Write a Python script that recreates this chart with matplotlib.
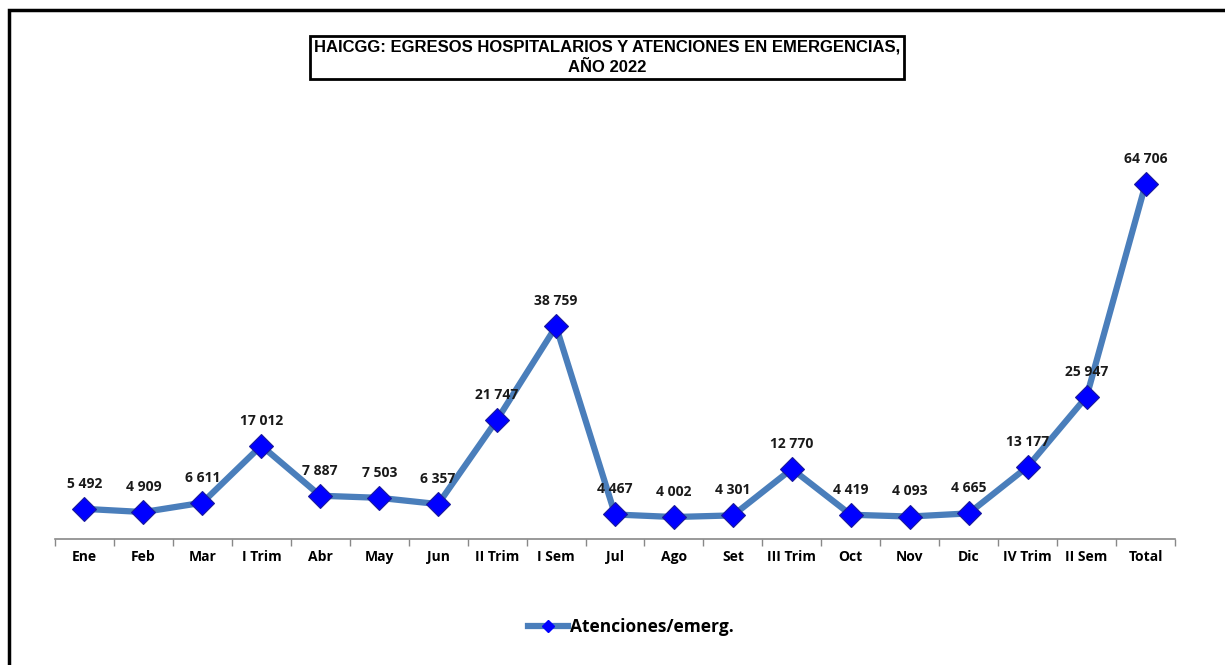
import numpy as np
import matplotlib.pyplot as plt
from matplotlib.lines import Line2D
from matplotlib.patches import Rectangle

categorias = ['Ene', 'Feb', 'Mar', 'I Trim', 'Abr', 'May', 'Jun', 'II Trim', 'I Sem',
              'Jul', 'Ago', 'Set', 'III Trim', 'Oct', 'Nov', 'Dic', 'IV Trim', 'II Sem', 'Total']
atenciones = [5492, 4909, 6611, 17012, 7887, 7503, 6357, 21747, 38759,
              4467, 4002, 4301, 12770, 4419, 4093, 4665, 13177, 25947, 64706]

titulo = 'HAICGG: EGRESOS HOSPITALARIOS Y ATENCIONES EN EMERGENCIAS,\nAÑO 2022'
serie = 'Atenciones/emerg.'

FONT = ['Open Sans', 'DejaVu Sans']


def main():
    fig = plt.figure(figsize=(12.25, 6.65), dpi=100)
    ax = fig.add_axes([0.0449, 0.1895, 0.9143, 0.5774])

    x = np.arange(len(categorias))
    ax.plot(x, atenciones, color='#4A7EBB', linewidth=4.5,
            marker='D', markersize=12, markerfacecolor='#0000FF',
            markeredgecolor='#1A1A9A', markeredgewidth=0.8,
            solid_joinstyle='miter', label=serie)

    for xi, v in zip(x, atenciones):
        ax.annotate(f'{v:,}'.replace(',', ' '), (xi, v), xytext=(0, 13),
                    textcoords='offset points', ha='center', va='bottom',
                    fontsize=10, fontweight='bold', family=FONT, color='#1a1a1a')

    ax.set_xlim(-0.5, len(categorias) - 0.5)
    ax.set_ylim(0, 70000)

    # tick marks at category boundaries, labels in the middle
    ax.set_xticks(np.arange(-0.5, len(categorias), 1.0))
    ax.set_xticklabels([])
    ax.tick_params(axis='x', which='major', length=5, width=1, color='#888888', direction='out')
    ax.set_xticks(x, minor=True)
    ax.set_xticklabels(categorias, minor=True, fontsize=10, fontweight='bold', family=FONT)
    ax.tick_params(axis='x', which='minor', length=0, pad=8)
    ax.set_yticks([])

    for s in ['top', 'right', 'left']:
        ax.spines[s].set_visible(False)
    ax.spines['bottom'].set_color('#888888')
    ax.spines['bottom'].set_linewidth(1.2)

    # title box
    fig.text(0.4955, 0.9135, titulo, ha='center', va='center', fontsize=12,
             fontweight='bold', family=['Liberation Sans', 'DejaVu Sans'],
             linespacing=1.45,
             bbox=dict(boxstyle='square,pad=0.22', facecolor='white',
                       edgecolor='black', linewidth=2))

    # legend
    handle = Line2D([], [], color='#4A7EBB', linewidth=4.5, marker='D', markersize=6,
                    markerfacecolor='#0000FF', markeredgecolor='#0000FF')
    fig.legend([handle], [serie], loc='center', bbox_to_anchor=(0.515, 0.057),
               frameon=False, handlelength=2.3, handletextpad=0.1,
               prop=dict(family=FONT, weight='bold', size=12.5))

    # outer frame (only left and top edges visible in the original)
    fig.patches.append(Rectangle((9 / 1225, -0.1), 1.2, 1.1 - 10 / 665,
                                 transform=fig.transFigure, fill=False,
                                 edgecolor='black', linewidth=2.5))

    fig.savefig('out.png', dpi=100)


if __name__ == '__main__':
    main()
